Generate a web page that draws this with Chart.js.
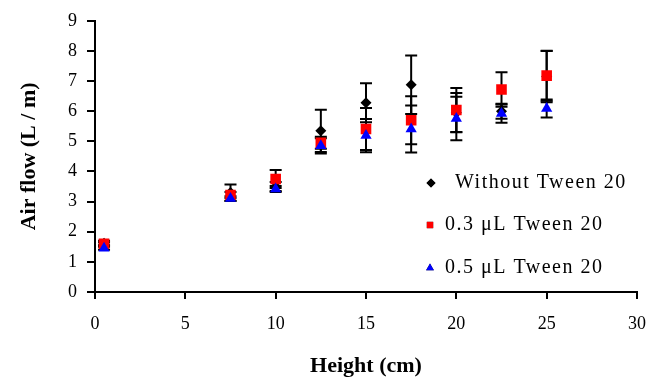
<!DOCTYPE html>
<html>
<head>
<meta charset="utf-8">
<script src="https://cdn.jsdelivr.net/npm/chart.js@4.4.1/dist/chart.umd.min.js"></script>
<style>
  html, body { margin: 0; padding: 0; background: #fff; }
  #wrap { width: 665px; height: 380px; }
</style>
</head>
<body>
<div id="wrap"><canvas id="airChart"></canvas></div>
<script>
// heights (cm)
const heights = [0.5, 7.5, 10, 12.5, 15, 17.5, 20, 22.5, 25];

// air flow (L / m) and error bars for each series
const withoutTween = [1.62, 3.3, 3.5, 5.35, 6.28, 6.88, 5.95, 6.0, 7.15];
const withoutTweenErr = [0.08, 0.27, 0.15, 0.7, 0.65, 0.97, 0.65, 0.25, 0.85];

const tween03 = [1.6, 3.22, 3.75, 4.95, 5.41, 5.7, 6.04, 6.72, 7.18];
const tween03Err = [0.05, 0.1, 0.3, 0.2, 0.7, 0.8, 0.73, 0.57, 0.83];

const tween05 = [1.45, 3.1, 3.42, 4.85, 5.19, 5.41, 5.76, 5.92, 6.09];
const tween05Err = [0.05, 0.08, 0.1, 0.25, 0.55, 0.78, 0.72, 0.3, 0.3];

const seriesLabels = ['Without Tween 20', '0.3 \u03bcL Tween 20', '0.5 \u03bcL Tween 20'];

const serif = "'Liberation Serif', 'Times New Roman', serif";

function toPoints(vals) {
  return heights.map((h, i) => ({ x: h, y: vals[i] }));
}

// error bars, drawn under the markers
const errorBars = {
  id: 'errorBars',
  beforeDatasetsDraw(chart) {
    const ctx = chart.ctx;
    const xs = chart.scales.x, ys = chart.scales.y;
    ctx.save();
    ctx.strokeStyle = '#000';
    ctx.lineWidth = 2;
    chart.data.datasets.forEach(ds => {
      ds.data.forEach((p, i) => {
        const e = ds.errors[i];
        const px = xs.getPixelForValue(p.x);
        const top = ys.getPixelForValue(p.y + e);
        const bot = ys.getPixelForValue(p.y - e);
        ctx.beginPath();
        ctx.moveTo(px, top); ctx.lineTo(px, bot);
        ctx.moveTo(px - 6, top); ctx.lineTo(px + 6, top);
        ctx.moveTo(px - 6, bot); ctx.lineTo(px + 6, bot);
        ctx.stroke();
      });
    });
    ctx.restore();
  }
};

// legend inside the plot area
const innerLegend = {
  id: 'innerLegend',
  afterDraw(chart) {
    const ctx = chart.ctx;
    const rows = [
      { mx: 431, tx: 455, y: 183 },
      { mx: 430, tx: 445, y: 225 },
      { mx: 430, tx: 445, y: 268 }
    ];
    ctx.save();
    ctx.font = '20px ' + serif;
    ctx.letterSpacing = '1.5px';
    ctx.textBaseline = 'middle';
    ctx.fillStyle = '#000';
    chart.data.datasets.forEach((ds, i) => {
      const r = rows[i];
      Chart.helpers.drawPoint(ctx, {
        pointStyle: ds.pointStyle, radius: 4.5, borderWidth: 0, rotation: 0
      }, r.mx, r.y);
      ctx.fillStyle = ds.backgroundColor;
      ctx.fill();
      ctx.fillStyle = '#000';
      ctx.fillText(ds.label, r.tx, r.y);
    });
    ctx.restore();
  }
};

const ctx = document.getElementById('airChart').getContext('2d');
new Chart(ctx, {
  type: 'scatter',
  data: {
    datasets: [
      { label: seriesLabels[0], data: toPoints(withoutTween), errors: withoutTweenErr,
        pointStyle: 'rectRot', radius: 5.5, backgroundColor: '#000', borderColor: '#000', borderWidth: 0, order: 2 },
      { label: seriesLabels[1], data: toPoints(tween03), errors: tween03Err,
        pointStyle: 'rect', radius: 7.5, backgroundColor: '#ff0000', borderColor: '#ff0000', borderWidth: 0, order: 1 },
      { label: seriesLabels[2], data: toPoints(tween05), errors: tween05Err,
        pointStyle: 'triangle', radius: 6.5, backgroundColor: '#0000ff', borderColor: '#0000ff', borderWidth: 0, order: 0 }
    ]
  },
  options: {
    responsive: true,
    maintainAspectRatio: false,
    animation: false,
    layout: { padding: { left: 0, right: 28, top: 17, bottom: 0 } },
    scales: {
      x: {
        type: 'linear',
        min: 0, max: 30,
        afterFit: s => { s.height = 88; },
        border: { color: '#000', width: 2 },
        grid: { drawOnChartArea: false, drawTicks: true, tickLength: 7, color: '#000', lineWidth: 2 },
        ticks: { stepSize: 5, color: '#000', padding: 14, font: { family: serif, size: 18 } },
        title: { display: true, text: 'Height (cm)', color: '#000',
          font: { family: serif, size: 22, weight: 'bold' }, padding: { top: 0, bottom: 0 } }
      },
      y: {
        min: 0, max: 9,
        afterFit: s => { s.width = 95; },
        border: { color: '#000', width: 2 },
        grid: { drawOnChartArea: false, drawTicks: true, tickLength: 8, color: '#000', lineWidth: 2 },
        ticks: { stepSize: 1, color: '#000', padding: 10, font: { family: serif, size: 18 } },
        title: { display: true, text: 'Air flow (L / m)', color: '#000',
          font: { family: serif, size: 22, weight: 'bold' }, padding: { top: 16, bottom: 0 } }
      }
    },
    plugins: {
      legend: { display: false },
      tooltip: { enabled: false }
    }
  },
  plugins: [errorBars, innerLegend]
});
</script>
</body>
</html>
